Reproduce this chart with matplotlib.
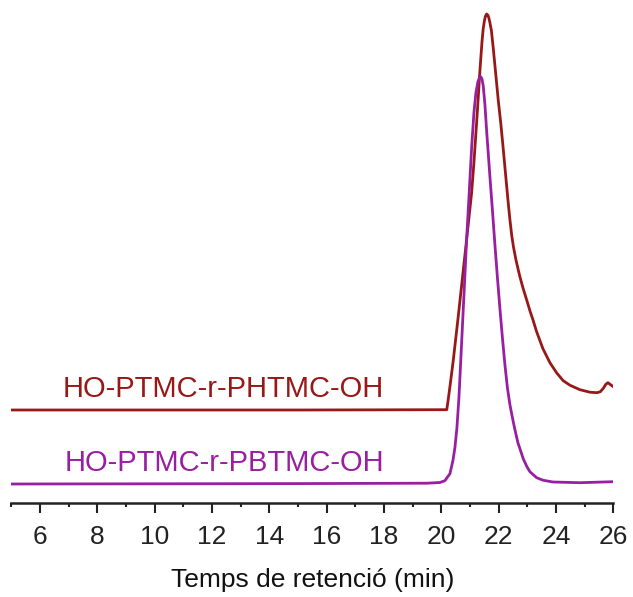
import matplotlib
matplotlib.use("Agg")
import matplotlib.pyplot as plt
from matplotlib.ticker import MultipleLocator

plt.rcParams['font.family'] = ['Liberation Sans', 'DejaVu Sans']

# Retention time (min) and detector signal (arbitrary units)
phtmc_time = [5.0, 10.0, 15.0, 20.19, 20.231, 20.301, 20.416, 20.590, 20.765, 20.939,
              21.058, 21.138, 21.232, 21.295, 21.347, 21.417, 21.462, 21.504, 21.539, 21.581,
              21.626, 21.661, 21.696, 21.748, 21.811, 21.888, 21.985, 22.080, 22.160, 22.237,
              22.334, 22.394, 22.453, 22.516, 22.603, 22.683, 22.742, 22.847, 22.976, 23.091,
              23.196, 23.325, 23.545, 23.789, 24.033, 24.253, 24.486, 24.835, 25.184, 25.428,
              25.550, 25.655, 25.742, 25.812, 25.882, 26.0]
phtmc_signal = [92.7, 92.7, 92.7, 93, 101, 116, 142, 186, 232, 278,
                310, 340, 380, 408, 432, 460, 474, 482, 486.5, 488.7,
                487.5, 484.5, 480, 472, 455, 432, 403, 378, 354, 330,
                300, 283, 268, 256, 243, 233, 226, 215, 203, 192,
                183, 171, 154, 140, 129.5, 122, 117.5, 113, 110.5, 110,
                111, 114.5, 118.5, 120, 118.5, 116]

pbtmc_time = [5.0, 10.0, 15.0, 19.5, 19.952, 20.126, 20.301, 20.405, 20.475, 20.545,
              20.615, 20.709, 20.789, 20.883, 20.964, 21.058, 21.138, 21.208, 21.277, 21.330,
              21.372, 21.417, 21.462, 21.522, 21.581, 21.696, 21.790, 21.870, 21.958, 22.045,
              22.132, 22.219, 22.306, 22.394, 22.481, 22.568, 22.673, 22.858, 22.987, 23.091,
              23.325, 23.545, 23.893, 24.835, 26.0]
pbtmc_signal = [18.7, 18.9, 19.1, 19.5, 20.2, 22, 29, 42, 55, 75,
                105, 160, 207, 263, 305, 355, 390, 410, 421, 425,
                426, 424, 417, 398, 372, 326, 290, 258, 225, 194,
                165, 138, 115, 98, 85, 73, 60, 44, 36, 31,
                25, 22.5, 20.7, 20, 21]

series_labels = ["HO-PTMC-r-PHTMC-OH", "HO-PTMC-r-PBTMC-OH"]
label_x = [6.80, 6.85]
label_y = [105.7, 31.7]
xlabel = "Temps de retenció (min)"

red = '#981818'
purple = '#981EA2'

fig = plt.figure(figsize=(6.33, 5.97), dpi=100)
ax = fig.add_axes([11.3 / 633, 1 - 502.7 / 597, (613.3 - 11.3) / 633, 502.7 / 597])
ax.plot(phtmc_time, phtmc_signal, color=red, lw=2.0, solid_joinstyle='round')
ax.plot(pbtmc_time, pbtmc_signal, color=purple, lw=2.0, solid_joinstyle='round')

ax.text(label_x[0], label_y[0], series_labels[0], color=red, fontsize=21, va='baseline', ha='left')
ax.text(label_x[1], label_y[1], series_labels[1], color=purple, fontsize=21, va='baseline', ha='left')

ax.set_xlim(5, 26)
ax.set_ylim(0, 502.7)
for s in ['left', 'right', 'top']:
    ax.spines[s].set_visible(False)
ax.spines['bottom'].set_linewidth(1.8)
ax.spines['bottom'].set_color('#222222')
ax.set_yticks([])
ax.set_xticks(range(6, 27, 2))
ax.xaxis.set_minor_locator(MultipleLocator(1))
ax.tick_params(axis='x', which='major', length=7, width=1.5, pad=9, labelsize=19, colors='#222222')
ax.tick_params(axis='x', which='minor', length=3, width=1.5, colors='#222222')
ax.set_xlabel(xlabel, fontsize=19, labelpad=14, color='#111111')

fig.savefig('out.png', dpi=100)
